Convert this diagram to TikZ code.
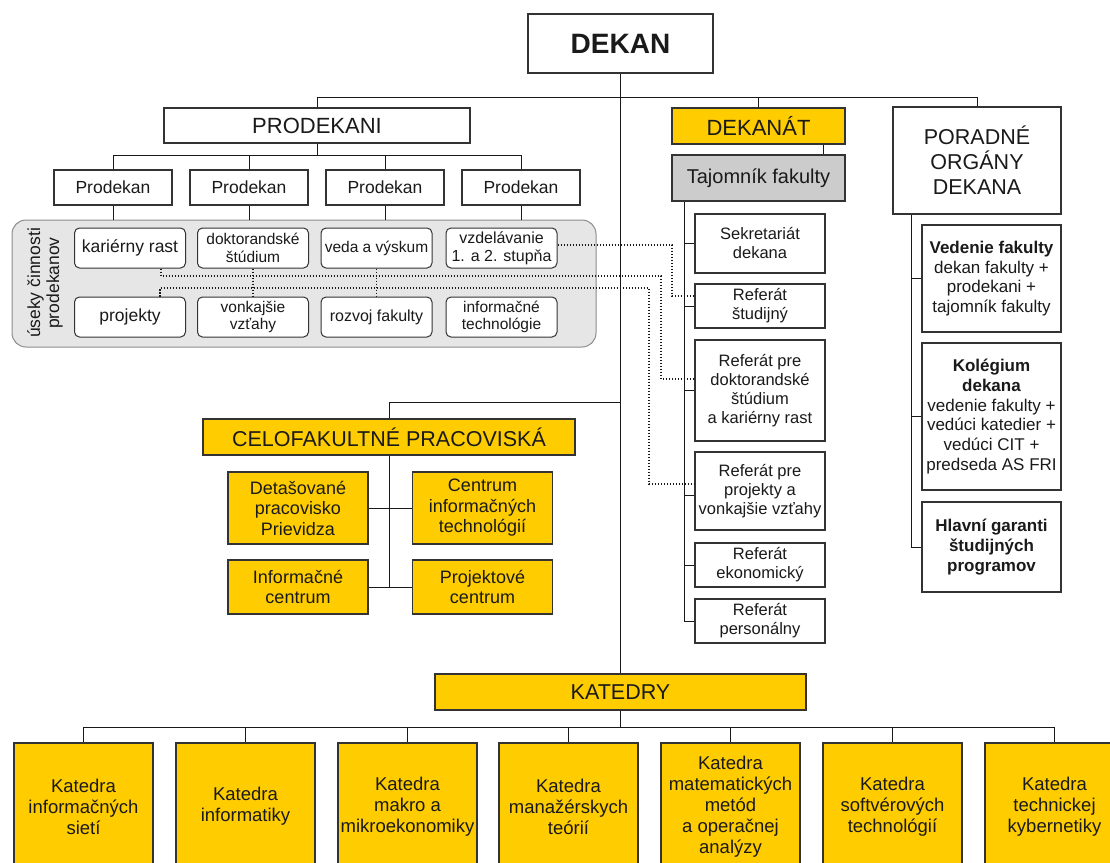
\documentclass[tikz,border=0pt]{standalone}
\usepackage{fontspec}
\setmainfont{Liberation Sans}
\usetikzlibrary{calc}
\definecolor{yel}{HTML}{FFCC00}
\definecolor{tgray}{HTML}{CCCCCC}
\definecolor{pgray}{HTML}{E6E6E6}
\definecolor{txtc}{HTML}{1A1A1A}
\newcommand\myfs[2]{\fontsize{#1}{#2}\selectfont}
\begin{document}
\begin{tikzpicture}[x=1pt,y=-1pt,
  bx/.style={draw=black!80, line width=1.2pt, inner sep=0pt, align=center, text=txtc},
  wbx/.style={bx, fill=white},
  ybx/.style={bx, fill=yel},
  gbx/.style={bx, fill=tgray},
  ibx/.style={draw=black!80, line width=1pt, fill=white, rounded corners=5pt, inner sep=0pt, align=center, text=txtc, minimum width=111pt, minimum height=40pt},
  rbx/.style={wbx, minimum width=130pt, font=\myfs{16.5}{19}},
  pbx/.style={wbx, minimum width=139pt, font=\myfs{17}{19.7}},
  cbx/.style={ybx, minimum width=140pt, font=\myfs{18}{20.5}},
  kbx/.style={ybx, minimum width=139pt, minimum height=127pt, font=\myfs{18.5}{21}},
  cnx/.style={draw=black!90, line width=1pt},
  dotl/.style={draw=black!90, line width=1.2pt, dash pattern=on 1.3pt off 1.7pt}]
\useasboundingbox (0,0) rectangle (1110,862);
\clip (0,0) rectangle (1110,862);
\fill[white] (0,0) rectangle (1110,862);

% top level
\node[wbx, minimum width=185pt, minimum height=59pt, font=\bfseries\myfs{28}{32}] (dekan) at (620.5,43.5) {DEKAN};
\node[wbx, minimum width=306pt, minimum height=35pt, font=\myfs{22}{26}] (prodekani) at (317,125.5) {PRODEKANI};
\node[ybx, minimum width=173pt, minimum height=36pt, font=\myfs{22}{26}] (dekanat) at (758.5,126) {DEKANÁT};
\node[wbx, minimum width=168pt, minimum height=107pt, font=\myfs{21.5}{25}] (poradne) at (977,160.5) {PORADNÉ\\ORGÁNY\\DEKANA};
\node[gbx, minimum width=173pt, minimum height=46pt, font=\myfs{20}{22}] (tajomnik) at (758.5,178) {Tajomník fakulty};

% prodekani
\foreach \i/\cx in {1/113,2/249,3/385,4/521}
  \node[wbx, minimum width=118pt, minimum height=35pt, font=\myfs{17.5}{20}] (pd\i) at (\cx,187.5) {Prodekan};

% gray panel
\node[draw=black!45, fill=pgray, line width=1pt, rounded corners=14pt, minimum width=584pt, minimum height=127pt, inner sep=0pt] (panel) at (304,283.5) {};
\node[rotate=90, align=center, text=txtc, font=\myfs{17.5}{19}] (usek) at (45,283) {úseky činnosti\\prodekanov};
\node[ibx, font=\myfs{17.5}{19}] (kr) at (130,248) {kariérny rast};
\node[ibx, font=\myfs{15.5}{17.5}] (dk) at (253,248) {doktorandské\\štúdium};
\node[ibx, font=\myfs{15.5}{17.5}] (vv) at (376.5,248) {veda a výskum};
\node[ibx, font=\myfs{16}{18}] (vz) at (501.5,248) {vzdelávanie\\1. a 2. stupňa};
\node[ibx, font=\myfs{17.5}{19}] (pj) at (130,317) {projekty};
\node[ibx, font=\myfs{15.5}{17.5}] (vk) at (253,317) {vonkajšie\\vzťahy};
\node[ibx, font=\myfs{16}{18}] (rf) at (376.5,317) {rozvoj fakulty};
\node[ibx, font=\myfs{15.5}{17.5}] (it) at (501.5,317) {informačné\\technológie};

% dekanat column
\node[rbx, minimum height=59pt] (r1) at (760,243.5) {Sekretariát\\dekana};
\node[rbx, minimum height=44pt] (r2) at (760,306) {Referát\\študijný};
\node[rbx, minimum height=101pt] (r3) at (760,390.5) {Referát pre\\doktorandské\\štúdium\\a kariérny rast};
\node[rbx, minimum height=78pt] (r4) at (760,491) {Referát pre\\projekty a\\vonkajšie vzťahy};
\node[rbx, minimum height=44pt] (r5) at (760,565) {Referát\\ekonomický};
\node[rbx, minimum height=44pt] (r6) at (760,621) {Referát\\personálny};

% poradne column
\node[pbx, minimum height=107pt] (pv1) at (991.5,278.5) {\textbf{Vedenie fakulty}\\dekan fakulty +\\prodekani +\\tajomník fakulty};
\node[pbx, minimum height=147pt] (pv2) at (991.5,416.5) {\textbf{Kolégium}\\\textbf{dekana}\\vedenie fakulty +\\vedúci katedier +\\vedúci CIT +\\predseda AS FRI};
\node[pbx, minimum height=90pt] (pv3) at (991.5,547) {\textbf{Hlavní garanti}\\\textbf{študijných}\\\textbf{programov}};

% celofakultne
\node[ybx, minimum width=372pt, minimum height=36pt, font=\myfs{21.5}{25}] (celo) at (389,437) {CELOFAKULTNÉ PRACOVISKÁ};
\node[cbx, minimum height=72pt] (det) at (298,508) {Detašované\\pracovisko\\Prievidza};
\node[cbx, minimum height=72pt] (cen) at (482.5,508) {Centrum\\informačných\\technológií};
\node[cbx, minimum height=54pt] (inf) at (298,587) {Informačné\\centrum};
\node[cbx, minimum height=54pt] (proj) at (482.5,587) {Projektové\\centrum};

% katedry
\node[ybx, minimum width=371pt, minimum height=36pt, font=\myfs{21.5}{25}] (katedry) at (620.5,692) {KATEDRY};
\node[kbx] (k1) at (83.5,806.5) {Katedra\\informačných\\sietí};
\node[kbx] (k2) at (245.5,806.5) {Katedra\\informatiky};
\node[kbx] (k3) at (407.5,806.5) {Katedra\\makro a\\mikroekonomiky};
\node[kbx] (k4) at (568.5,806.5) {Katedra\\manažérskych\\teórií};
\node[kbx] (k5) at (730.5,806.5) {Katedra\\matematických\\metód\\a operačnej\\analýzy};
\node[kbx] (k6) at (892.5,806.5) {Katedra\\softvérových\\technológií};
\node[kbx] (k7) at (1054.5,806.5) {Katedra\\technickej\\kybernetiky};

% connectors
\coordinate (bus1) at (0,97);
\coordinate (bus2) at (0,155);
\coordinate (bus3) at (0,402);
\coordinate (kbus) at (0,727);
\coordinate (tx) at (684,0);
\coordinate (dt) at (823,0);
\coordinate (px) at (911,0);
\coordinate (r4t) at (684,495);

\draw[cnx] (dekan.south) -- (katedry.north);
\draw[cnx] (prodekani.north) |- (poradne.north |- bus1) -- (poradne.north);
\draw[cnx] (dekanat.north) -- (dekanat.north |- bus1);
\draw[cnx] (prodekani.south) -- (prodekani.south |- bus2);
\draw[cnx] (pd1.north |- bus2) -- (pd4.north |- bus2);
\foreach \i in {1,2,3,4} {
  \draw[cnx] (pd\i.north) -- (pd\i.north |- bus2);
  \draw[cnx] (pd\i.south) -- (pd\i.south |- panel.north);
}
\draw[cnx] (dt |- dekanat.south) -- (dt |- tajomnik.north);
\draw[cnx] (tx |- tajomnik.south) -- (tx |- r6.west);
\foreach \n in {r1,r2,r3,r5,r6}
  \draw[cnx] (tx |- \n.west) -- (\n.west);
\draw[cnx] (r4t) -- (r4t -| r4.west);
\draw[cnx] (px |- poradne.south) -- (px |- pv3.west);
\foreach \n in {pv1,pv2,pv3}
  \draw[cnx] (px |- \n.west) -- (\n.west);
\draw[cnx] (celo.north) |- (dekan.south |- bus3);
\draw[cnx] (celo.south) -- (celo.south |- inf.east);
\draw[cnx] (det.east) -- (cen.west);
\draw[cnx] (inf.east) -- (proj.west);
\draw[cnx] (katedry.south) -- (katedry.south |- kbus);
\draw[cnx] (k1.north |- kbus) -- (k7.north |- kbus);
\foreach \i in {1,...,7}
  \draw[cnx] (k\i.north) -- (k\i.north |- kbus);

% dotted links
\draw[dotl] ($(kr.south)+(31,0)$) |- (661,276) -- (661,379) -- ($(r3.west)+(0,-11.5)$);
\draw[dotl] ($(pj.north)+(30,0)$) |- (649,288) -- (649,484) -- ($(r4.west)+(0,-7)$);
\draw[dotl] ($(vz.east)+(0,-3)$) -- (672,245) -- (672,296) -- ($(r2.west)+(0,-10)$);
\draw[dotl] (dk.south) -- (vk.north);
\draw[dotl] (vv.south) -- (rf.north);
\end{tikzpicture}
\end{document}
